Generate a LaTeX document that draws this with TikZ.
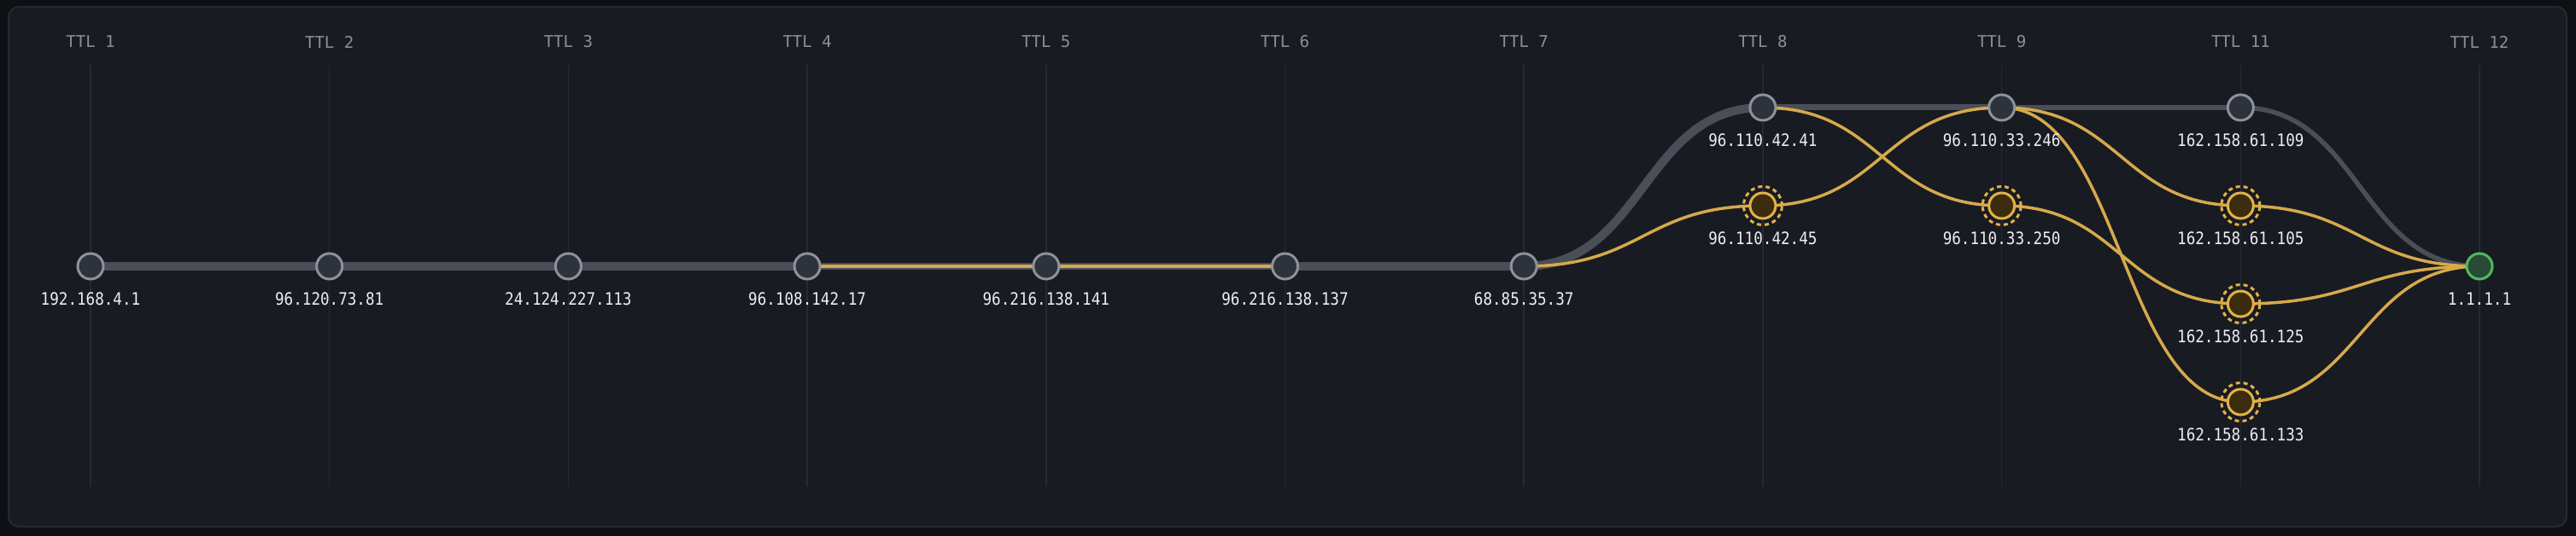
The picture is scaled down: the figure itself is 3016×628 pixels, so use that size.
\documentclass[tikz,border=0pt]{standalone}
\usepackage{fontspec}
\newfontfamily\ttlfont{DejaVu Sans Mono}
\newfontfamily\ipfont[FakeStretch=0.88]{DejaVu Sans Mono}

\definecolor{outerbg}{HTML}{0E1013}
\definecolor{panelbg}{HTML}{181B22}
\definecolor{panelrule}{HTML}{252930}
\definecolor{guide}{HTML}{252A32}
\definecolor{ttltext}{HTML}{8B9099}
\definecolor{iptext}{HTML}{ECEEF2}
\definecolor{route}{HTML}{4A4E57}
\definecolor{hopfill}{HTML}{2E323A}
\definecolor{hopring}{HTML}{8D929A}
\definecolor{gold}{HTML}{D6A94B}
\definecolor{goldring}{HTML}{E2B246}
\definecolor{goldfill}{HTML}{3B2C0D}
\definecolor{destring}{HTML}{52B95C}
\definecolor{destfill}{HTML}{294A34}

\pgfdeclarelayer{back}
\pgfdeclarelayer{edges}
\pgfsetlayers{back,edges,main}

\tikzset{
  hop/.style={circle,minimum size=30pt,inner sep=0pt,outer sep=0pt,
    line width=3pt,draw=hopring,fill=hopfill},
  hopwarn/.style={hop,draw=goldring,fill=goldfill},
  hopdest/.style={hop,draw=destring,fill=destfill},
  iplbl/.style={anchor=center,yshift=-23pt,inner sep=0pt,text=iptext,
    font=\ipfont\fontsize{20}{24}\selectfont},
  ttl/.style={inner sep=0pt,text=ttltext,font=\ttlfont\fontsize{19}{23}\selectfont},
  guideline/.style={draw=guide,line width=1.5pt},
  routeline/.style={draw=route,line width=#1},
  goldline/.style={draw=gold,line width=3.5pt},
  warnring/.style={draw=goldring,line width=3pt,dash pattern=on 5pt off 4pt}
}

\begin{document}
\begin{tikzpicture}[x=1pt,y=-1pt]
        \useasboundingbox (0,0) rectangle (3016,628);

        \begin{pgfonlayer}{back}
        \fill[outerbg] (0,0) rectangle (3016,628);
        \draw[fill=panelbg,draw=panelrule,line width=2pt,rounded corners=12pt]
          (10,8) rectangle (3005,617);

        %% ttl columns
        \draw[guideline] (106,76) -- (106,570);
        \draw[guideline] (385.7,76) -- (385.7,570);
        \draw[guideline] (665.4,76) -- (665.4,570);
        \draw[guideline] (945.1,76) -- (945.1,570);
        \draw[guideline] (1224.8,76) -- (1224.8,570);
        \draw[guideline] (1504.5,76) -- (1504.5,570);
        \draw[guideline] (1784.2,76) -- (1784.2,570);
        \draw[guideline] (2063.9,76) -- (2063.9,570);
        \draw[guideline] (2343.6,76) -- (2343.6,570);
        \draw[guideline] (2623.3,76) -- (2623.3,570);
        \draw[guideline] (2903,76) -- (2903,570);
        \end{pgfonlayer}

        \node[ttl] (c1) at (106,49) {TTL 1};
        \node[ttl] (c2) at (385.7,49) {TTL 2};
        \node[ttl] (c3) at (665.4,49) {TTL 3};
        \node[ttl] (c4) at (945.1,49) {TTL 4};
        \node[ttl] (c5) at (1224.8,49) {TTL 5};
        \node[ttl] (c6) at (1504.5,49) {TTL 6};
        \node[ttl] (c7) at (1784.2,49) {TTL 7};
        \node[ttl] (c8) at (2063.9,49) {TTL 8};
        \node[ttl] (c9) at (2343.6,49) {TTL 9};
        \node[ttl] (c11) at (2623.3,49) {TTL 11};
        \node[ttl] (c12) at (2903,49) {TTL 12};

        %% hops
        \node[hop,label={[iplbl]below:192.168.4.1}] (h1) at (106,312) {};
        \node[hop,label={[iplbl]below:96.120.73.81}] (h2) at (385.7,312) {};
        \node[hop,label={[iplbl]below:24.124.227.113}] (h3) at (665.4,312) {};
        \node[hop,label={[iplbl]below:96.108.142.17}] (h4) at (945.1,312) {};
        \node[hop,label={[iplbl]below:96.216.138.141}] (h5) at (1224.8,312) {};
        \node[hop,label={[iplbl]below:96.216.138.137}] (h6) at (1504.5,312) {};
        \node[hop,label={[iplbl]below:68.85.35.37}] (h7) at (1784.2,312) {};

        \node[hop,label={[iplbl]below:96.110.42.41}] (h8a) at (2063.9,126) {};
        \node[hopwarn,label={[iplbl]below:96.110.42.45}] (h8b) at (2063.9,241) {};

        \node[hop,label={[iplbl]below:96.110.33.246}] (h9a) at (2343.6,126) {};
        \node[hopwarn,label={[iplbl]below:96.110.33.250}] (h9b) at (2343.6,241) {};

        \node[hop,label={[iplbl]below:162.158.61.109}] (h11a) at (2623.3,126) {};
        \node[hopwarn,label={[iplbl]below:162.158.61.105}] (h11b) at (2623.3,241) {};
        \node[hopwarn,label={[iplbl]below:162.158.61.125}] (h11c) at (2623.3,356) {};
        \node[hopwarn,label={[iplbl]below:162.158.61.133}] (h11d) at (2623.3,471) {};

        \node[hopdest,label={[iplbl]below:1.1.1.1}] (h12) at (2903,312) {};

        %% dashed rings
        \draw[warnring] (h8b.center) circle (22.5pt);
        \draw[warnring] (h9b.center) circle (22.5pt);
        \draw[warnring] (h11b.center) circle (22.5pt);
        \draw[warnring] (h11c.center) circle (22.5pt);
        \draw[warnring] (h11d.center) circle (22.5pt);

        \begin{pgfonlayer}{edges}
        %% main route
        \draw[routeline=10pt] (h1.center) -- (h2.center) -- (h3.center) -- (h4.center);
        \draw[routeline=8pt] (h4.center) -- (h5.center) -- (h6.center);
        \draw[routeline=10pt] (h6.center) -- (h7.center);
        \draw[routeline=10pt] (h7.center) .. controls +(140,0) and +(-140,0) .. (h8a.center);
        \draw[routeline=7pt] (h8a.center) -- (h9a.center);
        \draw[routeline=6.5pt] (h9a.center) -- (h11a.center);
        \draw[routeline=5.5pt] (h11a.center) .. controls +(140,0) and +(-140,0) .. (h12.center);

        %% other paths
        \draw[goldline] (h4.center) -- (h5.center) -- (h6.center);
        \draw[goldline] (h7.center) .. controls +(140,0) and +(-140,0) .. (h8b.center);
        \draw[goldline] (h8b.center) .. controls +(140,0) and +(-140,0) .. (h9a.center);
        \draw[goldline] (h8a.center) .. controls +(140,0) and +(-140,0) .. (h9b.center);
        \draw[goldline] (h9a.center) .. controls +(140,0) and +(-140,0) .. (h11b.center);
        \draw[goldline] (h9a.center) .. controls +(140,0) and +(-140,0) .. (h11d.center);
        \draw[goldline] (h9b.center) .. controls +(140,0) and +(-140,0) .. (h11c.center);
        \draw[goldline] (h11b.center) .. controls +(140,0) and +(-140,0) .. (h12.center);
        \draw[goldline] (h11c.center) .. controls +(140,0) and +(-140,0) .. (h12.center);
        \draw[goldline] (h11d.center) .. controls +(140,0) and +(-140,0) .. (h12.center);
        \end{pgfonlayer}
      \end{tikzpicture}
\end{document}
